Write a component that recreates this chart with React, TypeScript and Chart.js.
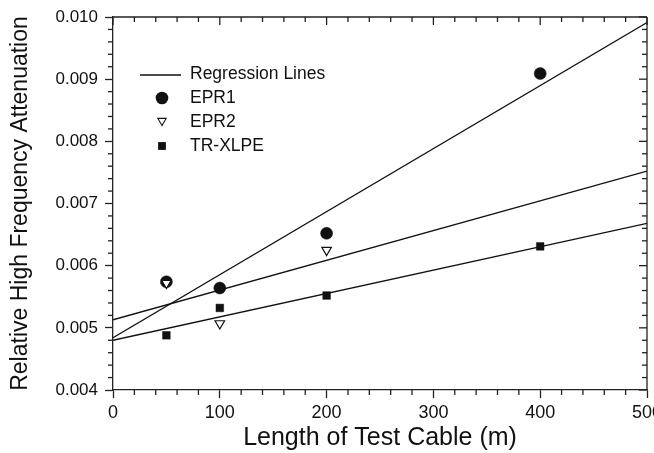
import React, { useEffect, useRef } from 'react';
import { Chart, registerables } from 'chart.js';

Chart.register(...registerables);

// ---- data ----
const lengths = [50, 100, 200, 400];
const epr1 = [0.00574, 0.00564, 0.00652, 0.00909];
const epr2 = [0.00572, 0.00507, 0.00625, null];
const trXlpe = [0.00488, 0.00532, 0.00552, 0.00631];

const fitX = [0, 500];
const epr1Fit = [0.00484, 0.00991];
const epr2Fit = [0.00513, 0.00752];
const trXlpeFit = [0.0048, 0.00668];

const xTitle = 'Length of Test Cable (m)';
const yTitle = 'Relative High Frequency Attenuation';
const legendLabels = ['Regression Lines', 'EPR1', 'EPR2', 'TR-XLPE'];

const X_MIN = 0, X_MAX = 500, X_STEP = 100, X_MINOR = 20;
const Y_MIN = 0.004, Y_MAX = 0.01, Y_STEP = 0.001, Y_MINOR = 0.0002;

const FONT = "'Liberation Sans', Arial, Helvetica, sans-serif";
const INK = '#111';
const AXIS = '#222';

const pts = (xs: number[], ys: (number | null)[]) =>
  xs.map((x, i) => ({ x, y: ys[i] })).filter((p) => p.y !== null);

const frameTicks = {
  id: 'frameTicks',
  afterDraw(chart: any) {
    const { ctx, chartArea, scales } = chart;
    const { left, right, top, bottom } = chartArea;
    const xs = scales.x, ys = scales.y;
    ctx.save();
    ctx.strokeStyle = AXIS;
    ctx.lineWidth = 1.3;
    const seg = (a: number, b: number, c: number, d: number) => {
      ctx.beginPath();
      ctx.moveTo(a, b);
      ctx.lineTo(c, d);
      ctx.stroke();
    };
    seg(left, top, right, top);
    seg(right, top, right, bottom);
    const nx = Math.round((X_MAX - X_MIN) / X_MINOR);
    for (let i = 0; i <= nx; i++) {
      const v = X_MIN + i * X_MINOR;
      const px = xs.getPixelForValue(v);
      const major = i % Math.round(X_STEP / X_MINOR) === 0;
      const len = major ? 8 : 5;
      if (!major) seg(px, bottom, px, bottom + len);
      seg(px, top, px, top + len);
    }
    const ny = Math.round((Y_MAX - Y_MIN) / Y_MINOR);
    for (let i = 0; i <= ny; i++) {
      const v = Y_MIN + i * Y_MINOR;
      const py = ys.getPixelForValue(v);
      const major = i % Math.round(Y_STEP / Y_MINOR) === 0;
      const len = major ? 8 : 5;
      if (!major) seg(left - len, py, left, py);
      seg(right - len, py, right, py);
    }

    // legend
    const lx = 162, tx = 190;
    const rows = [74, 98, 122, 146];
    ctx.fillStyle = INK;
    ctx.font = `17.5px ${FONT}`;
    ctx.textBaseline = 'middle';
    ctx.textAlign = 'left';
    legendLabels.forEach((t, i) => ctx.fillText(t, tx, rows[i]));
    ctx.strokeStyle = INK;
    ctx.lineWidth = 1.3;
    seg(140, rows[0] + 1, 181, rows[0] + 1);
    // circle
    ctx.beginPath();
    ctx.arc(lx, rows[1], 6.3, 0, Math.PI * 2);
    ctx.fill();
    // triangle down
    const r = 4.8;
    const cy = rows[2] - r / 4;
    ctx.beginPath();
    ctx.moveTo(lx, cy + r);
    ctx.lineTo(lx - r * 0.866, cy - r / 2);
    ctx.lineTo(lx + r * 0.866, cy - r / 2);
    ctx.closePath();
    ctx.fillStyle = '#fff';
    ctx.fill();
    ctx.lineWidth = 1.1;
    ctx.stroke();
    // square
    ctx.fillStyle = INK;
    ctx.fillRect(lx - 3.9, rows[3] - 3.9, 7.8, 7.8);
    ctx.restore();
  },
};

export default function App() {
  const ref = useRef<HTMLCanvasElement>(null);
  useEffect(() => {
    if (!ref.current) return;
    const lineDs = (ys: number[]) => ({
      type: 'line' as const,
      data: pts(fitX, ys),
      borderColor: INK,
      borderWidth: 1.3,
      pointRadius: 0,
      fill: false,
      order: 5,
    });
    const chart = new Chart(ref.current, {
      type: 'scatter',
      data: {
        datasets: [
          lineDs(epr1Fit) as any,
          lineDs(epr2Fit) as any,
          lineDs(trXlpeFit) as any,
          {
            label: 'EPR1',
            data: pts(lengths, epr1),
            pointStyle: 'circle',
            pointRadius: 6,
            backgroundColor: INK,
            borderColor: INK,
            borderWidth: 0.5,
            order: 3,
          },
          {
            label: 'EPR2',
            data: pts(lengths, epr2),
            pointStyle: 'triangle',
            rotation: 180,
            pointRadius: 5.5,
            backgroundColor: '#fff',
            borderColor: INK,
            borderWidth: 1.2,
            order: 1,
          },
          {
            label: 'TR-XLPE',
            data: pts(lengths, trXlpe),
            pointStyle: 'rect',
            pointRadius: 5.4,
            backgroundColor: INK,
            borderColor: INK,
            borderWidth: 0.5,
            order: 2,
          },
        ],
      },
      options: {
        animation: false,
        responsive: false,
        events: [],
        layout: { padding: { top: 17, right: 7, left: 0, bottom: 0 } },
        plugins: { legend: { display: false }, tooltip: { enabled: false } },
        scales: {
          x: {
            type: 'linear',
            min: X_MIN,
            max: X_MAX,
            ticks: {
              stepSize: X_STEP,
              color: INK,
              font: { family: FONT, size: 18 },
              padding: 4,
              maxRotation: 0,
            },
            grid: {
              drawOnChartArea: false,
              drawTicks: true,
              tickLength: 8,
              tickColor: AXIS,
              tickWidth: 1.3,
            },
            border: { display: true, color: AXIS, width: 1.3 },
            title: {
              display: true,
              text: xTitle,
              color: INK,
              font: { family: FONT, size: 25 },
              padding: { top: 0, bottom: 0 },
            },
            afterFit: (s: any) => {
              s.height = 63;
              s.paddingLeft = 0;
              s.paddingRight = 0;
            },
          },
          y: {
            type: 'linear',
            min: Y_MIN,
            max: Y_MAX,
            ticks: {
              stepSize: Y_STEP,
              color: INK,
              font: { family: FONT, size: 17 },
              padding: 7,
              callback: (v: any) => Number(v).toFixed(3),
            },
            grid: {
              drawOnChartArea: false,
              drawTicks: true,
              tickLength: 8,
              tickColor: AXIS,
              tickWidth: 1.3,
            },
            border: { display: true, color: AXIS, width: 1.3 },
            title: {
              display: true,
              text: yTitle,
              color: INK,
              font: { family: FONT, size: 23 },
              padding: { top: 7, bottom: 0 },
            },
            afterFit: (s: any) => {
              s.width = 113;
              s.paddingTop = 0;
              s.paddingBottom = 0;
            },
          },
        },
      },
      plugins: [frameTicks],
    } as any);
    return () => chart.destroy();
  }, []);
  return (
    <div style={{ position: 'absolute', left: 0, top: 0, width: 654, height: 453, background: '#fff' }}>
      <canvas ref={ref} width={654} height={453} style={{ width: 654, height: 453, display: 'block' }} />
    </div>
  );
}
